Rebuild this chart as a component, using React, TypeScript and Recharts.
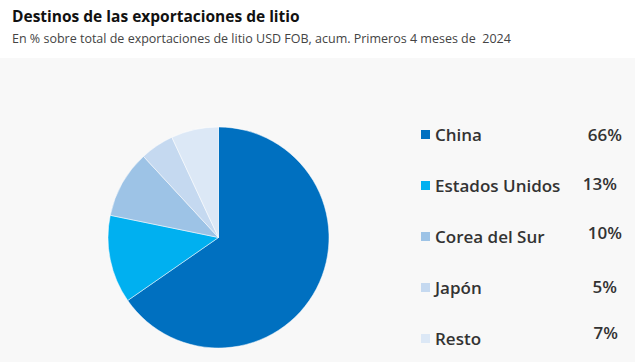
import { PieChart, Pie, Cell, Legend } from 'recharts';

const destinos = ['China', 'Estados Unidos', 'Corea del Sur', 'Japón', 'Resto'];
const porcentajes = [66, 13, 10, 5, 7];
const colores = ['#0070c0', '#00b0f0', '#9dc3e6', '#c5d9f0', '#dce8f6'];

const chartData = destinos.map((name, i) => ({ name, value: porcentajes[i] }));

const FONT = '"Open Sans", "Noto Sans", sans-serif';

// the percentages in the original are not perfectly aligned
const pctNudge = [
  [0, 0],
  [-5, -2],
  [0, -4],
  [-5, -1],
  [-4, -6],
];

function CustomLegend() {
  return (
    <div style={{ position: 'relative', width: 201, height: 260 }}>
      {chartData.map((d, i) => (
        <div
          key={d.name}
          style={{
            position: 'absolute',
            left: 0,
            top: i * 51,
            width: 201,
            height: 22,
            display: 'flex',
            alignItems: 'center',
            fontFamily: FONT,
            fontWeight: 600,
            fontSize: 17,
            color: '#333',
          }}
        >
          <span style={{ width: 9, height: 9, background: colores[i], marginRight: 5 }} />
          <span>{d.name}</span>
          <span
            style={{
              marginLeft: 'auto',
              position: 'relative',
              left: pctNudge[i][0],
              top: pctNudge[i][1],
            }}
          >
            {d.value}%
          </span>
        </div>
      ))}
    </div>
  );
}

export default function App() {
  return (
    <div
      style={{
        position: 'absolute',
        left: 0,
        top: 0,
        width: 635,
        height: 362,
        background: '#fff',
        fontFamily: FONT,
      }}
    >
      <div style={{ position: 'absolute', left: 12, top: 5, fontSize: 15.5, fontWeight: 700, color: '#111' }}>
        Destinos de las exportaciones de litio
      </div>
      <div style={{ position: 'absolute', left: 12, top: 30, fontSize: 12.5, color: '#444' }}>
        En % sobre total de exportaciones de litio USD FOB, acum. Primeros 4 meses de&nbsp; 2024
      </div>
      <div style={{ position: 'absolute', left: 0, top: 58, width: 635, height: 304, background: '#f8f8f8' }}>
        <PieChart width={635} height={304} margin={{ top: 0, right: 0, bottom: 0, left: 0 }}>
          <Pie
            data={chartData}
            dataKey="value"
            nameKey="name"
            cx={218.5}
            cy={179.5}
            outerRadius={110.5}
            startAngle={90}
            endAngle={-270}
            stroke="#fff"
            strokeWidth={0.5}
            isAnimationActive={false}
          >
            {chartData.map((d, i) => (
              <Cell key={d.name} fill={colores[i]} />
            ))}
          </Pie>
          <Legend
            content={<CustomLegend />}
            wrapperStyle={{ position: 'absolute', left: 421, top: 65, width: 201 }}
          />
        </PieChart>
      </div>
    </div>
  );
}
